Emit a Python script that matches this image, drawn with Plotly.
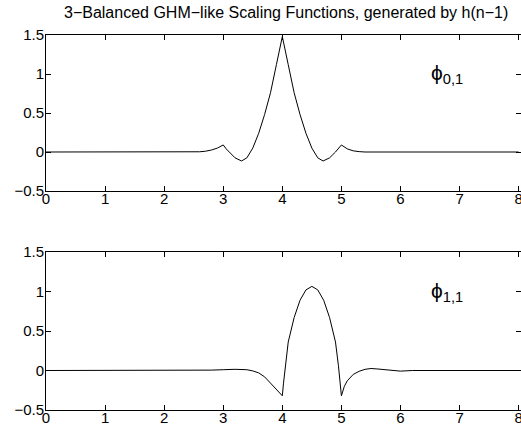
import plotly.graph_objects as go
from plotly.subplots import make_subplots

title_text = "3\u2212Balanced GHM\u2212like Scaling Functions, generated by h(n\u22121)"

# phi_{0,1}
phi01_x = [0, 2.5, 2.6, 2.7, 2.8, 2.9, 3.0, 3.05, 3.1, 3.2, 3.31, 3.4, 3.5, 3.6, 3.7, 3.8, 3.9, 4.0,
           4.1, 4.2, 4.3, 4.4, 4.5, 4.6, 4.69, 4.8, 4.9, 4.95, 5.0, 5.1, 5.2, 5.3, 5.4, 8.0]
phi01_y = [0, 0, 0.003, 0.01, 0.025, 0.05, 0.09, 0.04, 0.0, -0.075, -0.115, -0.075, 0.05, 0.24, 0.48, 0.76, 1.12, 1.48,
           1.12, 0.76, 0.48, 0.24, 0.05, -0.075, -0.115, -0.075, 0.0, 0.04, 0.09, 0.04, 0.015, 0.005, 0.0, 0.0]

# phi_{1,1}
phi11_x = [0, 2.5, 2.8, 3.0, 3.2, 3.4, 3.5, 3.6, 3.7, 3.8, 3.9, 3.95, 4.0, 4.02, 4.05, 4.1, 4.2, 4.3, 4.4, 4.5,
           4.6, 4.7, 4.8, 4.9, 4.95, 4.98, 5.0, 5.05, 5.1, 5.2, 5.3, 5.4, 5.5, 5.6, 5.8, 6.0, 6.2, 8.0]
phi11_y = [0, 0, 0.005, 0.01, 0.015, 0.01, -0.005, -0.03, -0.08, -0.16, -0.24, -0.28, -0.32, -0.16, 0.06, 0.36, 0.67, 0.89, 1.02, 1.065,
           1.02, 0.89, 0.67, 0.36, 0.06, -0.16, -0.32, -0.2, -0.13, -0.05, -0.01, 0.015, 0.025, 0.02, 0.005, -0.008, 0.0, 0.0]

x_ticks = [0, 1, 2, 3, 4, 5, 6, 7, 8]
y_ticks = [-0.5, 0, 0.5, 1, 1.5]
y_tick_labels = ["\u22120.5", "0", "0.5", "1", "1.5"]
label_top = "\u03d5<sub>0,1</sub>"
label_bottom = "\u03d5<sub>1,1</sub>"

W, H = 521, 429
ml, mr, mt, mb = 46, 0, 35, 19
plot_h = H - mt - mb
top_dom = [(410 - 191) / plot_h, 1.0]
bot_dom = [0.0, (410 - 252) / plot_h]

fig = make_subplots(rows=2, cols=1)
line = dict(color="black", width=1)
fig.add_trace(go.Scatter(x=phi01_x, y=phi01_y, mode="lines", line=line, showlegend=False), row=1, col=1)
fig.add_trace(go.Scatter(x=phi11_x, y=phi11_y, mode="lines", line=line, showlegend=False), row=2, col=1)

font = dict(family="Liberation Sans, Arial, sans-serif", size=15, color="black")
axis_common = dict(showline=True, mirror="ticks", linecolor="black", linewidth=1,
                   ticks="inside", ticklen=5, tickcolor="black", tickwidth=1,
                   showgrid=False, zeroline=False, tickfont=font, automargin=False)

fig.update_xaxes(range=[0, 8.04], tickvals=x_ticks, ticklabelstandoff=-6,
                 ticklabeloverflow="allow", **axis_common)
fig.update_yaxes(range=[-0.5, 1.5], tickvals=y_ticks, ticktext=y_tick_labels, ticklabelstandoff=-2, **axis_common)
fig.update_layout(yaxis=dict(domain=top_dom), yaxis2=dict(domain=bot_dom))

phi_font = dict(family="Liberation Sans, Arial", size=21, color="black")
fig.add_annotation(x=6.48, y=1.0, xref="x", yref="y", text=label_top, showarrow=False,
                   xanchor="left", yanchor="middle", font=phi_font)
fig.add_annotation(x=6.48, y=1.0, xref="x2", yref="y2", text=label_bottom, showarrow=False,
                   xanchor="left", yanchor="middle", font=phi_font)

fig.add_annotation(x=0.505, y=1.0, xref="paper", yref="paper", text=title_text, showarrow=False,
                   xanchor="center", yanchor="middle", yshift=35 - 12,
                   font=dict(family="Liberation Sans, Arial, sans-serif", size=16, color="black"))

fig.update_layout(
    width=W, height=H,
    margin=dict(l=ml, r=mr, t=mt, b=mb, pad=0),
    paper_bgcolor="white", plot_bgcolor="white",
)

fig.write_html("out.html", config={"displayModeBar": False},
               post_script="document.body.style.margin='0';document.body.style.overflow='hidden';")
